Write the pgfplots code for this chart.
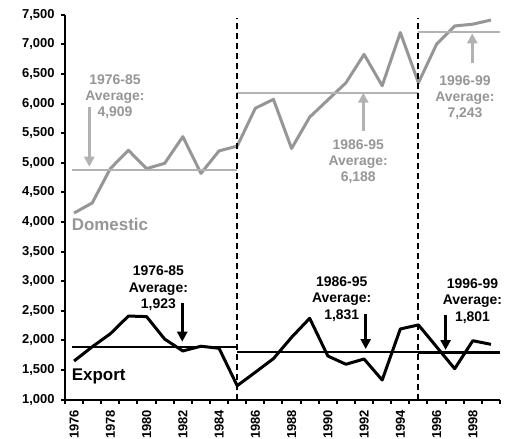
\documentclass[border=0pt]{standalone}
\usepackage{pgfplots}
\pgfplotsset{compat=1.18}
\usepackage{fontspec}
\setmainfont{Liberation Sans}
\usetikzlibrary{arrows.meta}

\definecolor{domline}{RGB}{150,150,150}
\definecolor{domlight}{RGB}{178,178,178}
\definecolor{domtext}{RGB}{150,150,150}

\begin{document}
\begin{tikzpicture}
\useasboundingbox (-65bp,-39.5bp) rectangle (444bp,399.5bp);
\begin{axis}[
    at={(0,0)}, anchor=south west,
    scale only axis,
    width=435bp, height=384.8bp,
    xmin=1975.5, xmax=1999.5,
    ymin=1000, ymax=7500,
    clip=false,
    axis x line=bottom, axis y line=left,
    axis line style={-, line width=2bp},
    tick align=outside,
    major tick length=4bp,
    tick style={black, line width=2bp},
    ytick={1000,1500,...,7500},
    /pgf/number format/assume math mode=true,
    yticklabel={\textbf{\pgfmathprintnumber{\tick}}},
    yticklabel style={font=\bfseries\fontsize{13}{13}\selectfont, xshift=-3bp},
    xtick={1975.5,1976.5,...,1999.5},
    xticklabels={},
    extra x ticks={1976,1978,1980,1982,1984,1986,1988,1990,1992,1994,1996,1998},
    extra x tick labels={1976,1978,1980,1982,1984,1986,1988,1990,1992,1994,1996,1998},
    extra x tick style={major tick length=0pt,
        tick label style={yshift=-7bp, rotate=90, anchor=east, font=\bfseries\fontsize{13}{13}\selectfont}},
]

% Domestic
\addplot[domline, line width=3bp, line join=round, mark=none] coordinates {
 (1976,4150) (1977,4320) (1978,4900) (1979,5210) (1980,4900)
 (1981,4990) (1982,5440) (1983,4820) (1984,5200) (1985,5280)
 (1986,5920) (1987,6070) (1988,5240) (1989,5770) (1990,6060)
 (1991,6350) (1992,6830) (1993,6300) (1994,7200) (1995,6350)
 (1996,7000) (1997,7310) (1998,7340) (1999,7410)
};

% Export
\addplot[black, line width=3bp, line join=round, mark=none] coordinates {
 (1976,1650) (1977,1890) (1978,2110) (1979,2410) (1980,2400)
 (1981,2020) (1982,1820) (1983,1900) (1984,1865) (1985,1233)
 (1986,1460) (1987,1690) (1988,2050) (1989,2372) (1990,1735)
 (1991,1595) (1992,1684) (1993,1329) (1994,2191) (1995,2260)
 (1996,1890) (1997,1520) (1998,1993) (1999,1932)
};

% period averages
\addplot[domlight, line width=2bp] coordinates {(1975.9,4870) (1985,4870)};
\addplot[domlight, line width=2bp] coordinates {(1985,6183) (1995,6183)};
\addplot[domlight, line width=2bp] coordinates {(1995,7200) (1999.5,7200)};
\addplot[black, line width=2bp] coordinates {(1975.9,1892) (1985,1892)};
\addplot[black, line width=2bp] coordinates {(1985,1807) (1995,1807)};
\addplot[black, line width=3bp] coordinates {(1995,1790) (1999.5,1790)};

% period dividers
\addplot[black, line width=2bp, dash pattern=on 6bp off 4bp] coordinates {(1985,1000) (1985,7440)};
\addplot[black, line width=2bp, dash pattern=on 6bp off 4bp] coordinates {(1995,1000) (1995,7440)};

% arrows
\draw[domlight, line width=3bp, -{Triangle[length=10bp,width=10bp]}] (axis cs:1976.84,5946) -- (axis cs:1976.84,4932);
\draw[domlight, line width=3bp, -{Triangle[length=10bp,width=10bp]}] (axis cs:1991.96,5541) -- (axis cs:1991.96,6183);
\draw[domlight, line width=3bp, -{Triangle[length=10bp,width=10bp]}] (axis cs:1997.97,6679) -- (axis cs:1997.97,7186);
\draw[black, line width=3bp, -{Triangle[length=10bp,width=10bp]}] (axis cs:1981.97,2625) -- (axis cs:1981.97,1976);
\draw[black, line width=3bp, -{Triangle[length=10bp,width=10bp]}] (axis cs:1992.09,2439) -- (axis cs:1992.09,1853);
\draw[black, line width=3bp, -{Triangle[length=10bp,width=10bp]}] (axis cs:1996.50,2427) -- (axis cs:1996.50,1836);

% annotations
\tikzset{ann/.style={font=\bfseries\fontsize{14}{16.3}\selectfont, align=center, inner sep=0pt}}
\node[ann, text=domtext] at (axis cs:1978.26,6115) {1976-85\\Average:\\4,909};
\node[ann, text=domtext] at (axis cs:1991.68,5017) {1986-95\\Average:\\6,188};
\node[ann, text=domtext] at (axis cs:1997.57,6098) {1996-99\\Average:\\7,243};
\node[ann, text=black] at (axis cs:1980.65,2878) {1976-85\\Average:\\1,923};
\node[ann, text=black] at (axis cs:1990.77,2698) {1986-95\\Average:\\1,831};
\node[ann, text=black] at (axis cs:1997.98,2664) {1996-99\\Average:\\1,801};

\node[font=\bfseries\fontsize{17}{17}\selectfont, text=domtext, anchor=base, inner sep=0pt] at (axis cs:1977.98,3851) {Domestic};
\node[font=\bfseries\fontsize{17}{17}\selectfont, text=black, anchor=base, inner sep=0pt] at (axis cs:1977.36,1329) {Export};

\end{axis}
\end{tikzpicture}
\end{document}
